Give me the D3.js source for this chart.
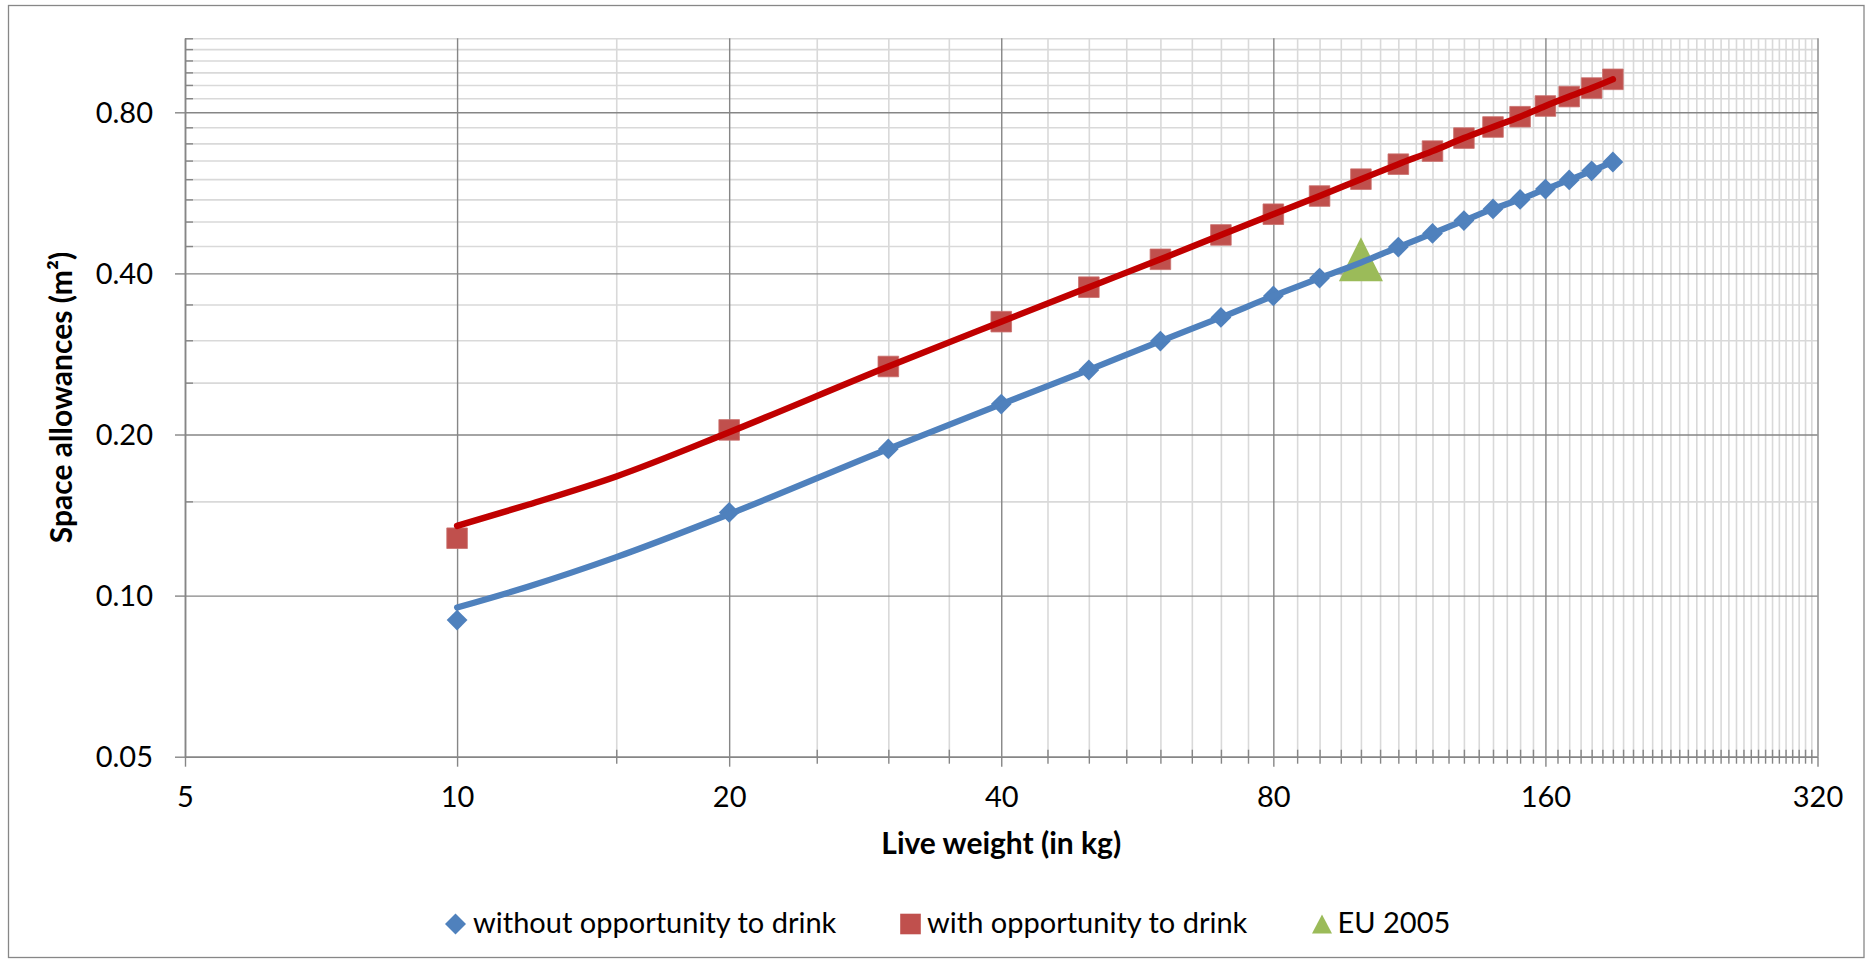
<!DOCTYPE html>
<html>
<head>
<meta charset="utf-8">
<script src="https://cdn.jsdelivr.net/npm/d3@7"></script>
<style>
  html, body { margin: 0; padding: 0; background: #ffffff; }
  svg { display: block; }
  text { font-family: Lato, "Open Sans", "DejaVu Sans", sans-serif; fill: #000; }
</style>
</head>
<body>
<svg id="chart" width="1870" height="963"></svg>
<script>
// ---------------- DATA ----------------
const weights = [10, 20, 30, 40, 50, 60, 70, 80, 90, 100, 110, 120, 130, 140, 150, 160, 170, 180, 190];
const withoutDrink = [0.090, 0.143, 0.188, 0.228, 0.264, 0.299, 0.331, 0.363, 0.392, 0.419,
                      0.448, 0.475, 0.502, 0.528, 0.550, 0.575, 0.598, 0.622, 0.646];
const withDrink = [0.128, 0.204, 0.268, 0.325, 0.377, 0.425, 0.472, 0.516, 0.558, 0.600,
                   0.640, 0.677, 0.716, 0.751, 0.785, 0.822, 0.856, 0.888, 0.922];

// smoothed curves drawn through the series
const curveWeights = [10, 12, 15, 20, 30, 40, 50, 60, 70, 80, 90, 100, 110, 120, 130, 140, 150, 160, 170, 180, 190];
const withoutDrinkCurve = [0.095, 0.104, 0.118, 0.142, 0.188, 0.228, 0.264, 0.299, 0.331, 0.363, 0.392,
                           0.419, 0.448, 0.475, 0.502, 0.528, 0.550, 0.575, 0.598, 0.622, 0.646];
const withDrinkCurve = [0.135, 0.148, 0.167, 0.202, 0.268, 0.325, 0.377, 0.425, 0.472, 0.516, 0.558,
                        0.600, 0.640, 0.677, 0.716, 0.751, 0.785, 0.822, 0.856, 0.888, 0.922];

const euWeights = [100];
const euValues = [0.425];

const xTickValues = [5, 10, 20, 40, 80, 160, 320];
const xTickLabels = ["5", "10", "20", "40", "80", "160", "320"];
const yTickValues = [0.05, 0.10, 0.20, 0.40, 0.80];
const yTickLabels = ["0.05", "0.10", "0.20", "0.40", "0.80"];
const seriesNames = ["without opportunity to drink", "with opportunity to drink", "EU 2005"];
const xTitle = "Live weight (in kg)";
const yTitle = "Space allowances (m²)";

// ---------------- LAYOUT ----------------
const W = 1870, H = 963;
const plot = { left: 185, right: 1817.5, top: 38.3, bottom: 756.7 };
const colors = {
  blue: "#4F81BD", redMarker: "#C0504D", redLine: "#C00000", green: "#9BBB59",
  major: "#868686", minor: "#D9D9D9", border: "#878787"
};
const FS = 29;
const FS_TITLE = 30;

const svg = d3.select("#chart");
svg.append("rect").attr("x", 0).attr("y", 0).attr("width", W).attr("height", H).attr("fill", "#fff");
svg.append("rect").attr("x", 8.5).attr("y", 5.5).attr("width", 1855.5).attr("height", 952)
  .attr("fill", "#fff").attr("stroke", colors.border).attr("stroke-width", 1.3);

const x = d3.scaleLog().base(2).domain([5, 320]).range([plot.left, plot.right]);
const y = d3.scaleLog().base(2).domain([0.05, 1.1]).range([plot.bottom, plot.top]);

// minor grid values (axis minor units: 5 kg and 0.05 m²)
const xMinor = d3.range(5, 321, 5).filter(v => !xTickValues.includes(v));
const yMinor = d3.range(1, 23).map(k => +(k * 0.05).toFixed(2)).filter(v => !yTickValues.some(t => Math.abs(t - v) < 1e-9));

const plotH = plot.bottom - plot.top, plotW = plot.right - plot.left;

function styleGrid(g, color, width) {
  g.select(".domain").remove();
  g.selectAll(".tick line").attr("stroke", color).attr("stroke-width", width);
  g.selectAll(".tick text").remove();
}

// minor gridlines
svg.append("g").attr("transform", `translate(0,${plot.bottom})`)
  .call(d3.axisBottom(x).tickValues(xMinor).tickSize(-plotH).tickFormat(""))
  .call(g => styleGrid(g, colors.minor, 1.6));
svg.append("g").attr("transform", `translate(${plot.left},0)`)
  .call(d3.axisLeft(y).tickValues(yMinor).tickSize(-plotW).tickFormat(""))
  .call(g => styleGrid(g, colors.minor, 1.6));

// major gridlines
svg.append("g").attr("transform", `translate(0,${plot.bottom})`)
  .call(d3.axisBottom(x).tickValues(xTickValues).tickSize(-plotH).tickFormat(""))
  .call(g => styleGrid(g, colors.major, 1.4));
svg.append("g").attr("transform", `translate(${plot.left},0)`)
  .call(d3.axisLeft(y).tickValues(yTickValues).tickSize(-plotW).tickFormat(""))
  .call(g => styleGrid(g, colors.major, 1.4));

// minor tick marks
svg.append("g").attr("transform", `translate(0,${plot.bottom + 7})`)
  .call(d3.axisBottom(x).tickValues(xMinor).tickSize(-14).tickFormat(""))
  .call(g => styleGrid(g, colors.major, 1.4));
svg.append("g").attr("transform", `translate(${plot.left},0)`)
  .call(d3.axisLeft(y).tickValues(yMinor).tickSize(-8).tickFormat(""))
  .call(g => styleGrid(g, colors.major, 1.4));

// axes with major ticks + labels
const xAxis = svg.append("g").attr("transform", `translate(0,${plot.bottom})`)
  .call(d3.axisBottom(x).tickValues(xTickValues).tickSize(10).tickSizeOuter(0).tickPadding(0)
    .tickFormat((d, i) => xTickLabels[i]));
xAxis.select(".domain").attr("stroke", colors.major).attr("stroke-width", 1.6);
xAxis.selectAll(".tick line").attr("stroke", colors.major).attr("stroke-width", 1.4);
xAxis.selectAll(".tick text").attr("y", 50).attr("dy", null)
  .attr("font-size", FS).attr("font-family", "Lato, 'Open Sans', sans-serif").attr("fill", "#000");

const yAxis = svg.append("g").attr("transform", `translate(${plot.left},0)`)
  .call(d3.axisLeft(y).tickValues(yTickValues).tickSize(10).tickSizeOuter(0).tickPadding(0)
    .tickFormat((d, i) => yTickLabels[i]));
yAxis.select(".domain").attr("stroke", colors.major).attr("stroke-width", 1.6);
yAxis.selectAll(".tick line").attr("stroke", colors.major).attr("stroke-width", 1.4);
yAxis.selectAll(".tick text").attr("x", -32).attr("dy", "0.35em")
  .attr("font-size", FS).attr("font-family", "Lato, 'Open Sans', sans-serif").attr("fill", "#000");

// axis titles
svg.append("text").attr("x", (plot.left + plot.right) / 2).attr("y", 854)
  .attr("text-anchor", "middle").attr("font-size", FS_TITLE).attr("font-weight", "bold").text(xTitle);
svg.append("text").attr("transform", `translate(72,${(plot.top + plot.bottom) / 2}) rotate(-90)`)
  .attr("text-anchor", "middle").attr("font-size", FS_TITLE).attr("font-weight", "bold").text(yTitle);

// ---------------- MARKS ----------------
const diamond = s => `M0,${-s}L${s},0L0,${s}L${-s},0Z`;
const square = s => `M${-s},${-s}H${s}V${s}H${-s}Z`;
const triangle = (w, h) => `M0,${-h / 2}L${w / 2},${h / 2}L${-w / 2},${h / 2}Z`;

const marks = svg.append("g");
marks.selectAll("path.blue").data(weights.map((w, i) => [w, withoutDrink[i]])).join("path")
  .attr("class", "blue").attr("d", diamond(10.4))
  .attr("transform", d => `translate(${x(d[0])},${y(d[1])})`)
  .attr("fill", colors.blue);
marks.selectAll("path.red").data(weights.map((w, i) => [w, withDrink[i]])).join("path")
  .attr("class", "red").attr("d", square(10.3))
  .attr("transform", d => `translate(${x(d[0])},${y(d[1])})`)
  .attr("fill", colors.redMarker).attr("stroke", "#C9706D").attr("stroke-width", 0.8);
marks.selectAll("path.eu").data(euWeights.map((w, i) => [w, euValues[i]])).join("path")
  .attr("class", "eu").attr("d", triangle(44, 44))
  .attr("transform", d => `translate(${x(d[0])},${y(d[1])})`)
  .attr("fill", colors.green);

const line = d3.line().x(d => x(d[0])).y(d => y(d[1])).curve(d3.curveMonotoneX);
svg.append("path").datum(curveWeights.map((w, i) => [w, withoutDrinkCurve[i]]))
  .attr("d", line).attr("fill", "none").attr("stroke", colors.blue)
  .attr("stroke-width", 6.2).attr("stroke-linecap", "round").attr("stroke-linejoin", "round");
svg.append("path").datum(curveWeights.map((w, i) => [w, withDrinkCurve[i]]))
  .attr("d", line).attr("fill", "none").attr("stroke", colors.redLine)
  .attr("stroke-width", 6.4).attr("stroke-linecap", "round").attr("stroke-linejoin", "round");

// ---------------- LEGEND ----------------
const legendY = 924;
const legendItems = [
  { name: seriesNames[0], mx: 455.5, tx: 473, d: diamond(10.5), fill: colors.blue },
  { name: seriesNames[1], mx: 910.5, tx: 927, d: square(10.3), fill: colors.redMarker },
  { name: seriesNames[2], mx: 1322, tx: 1337.5, d: triangle(20, 19), fill: colors.green }
];
const lg = svg.append("g");
legendItems.forEach(it => {
  lg.append("path").attr("d", it.d).attr("transform", `translate(${it.mx},${legendY})`).attr("fill", it.fill);
  lg.append("text").attr("x", it.tx).attr("y", legendY + 8.5).attr("font-size", FS).text(it.name);
});
</script>
</body>
</html>
